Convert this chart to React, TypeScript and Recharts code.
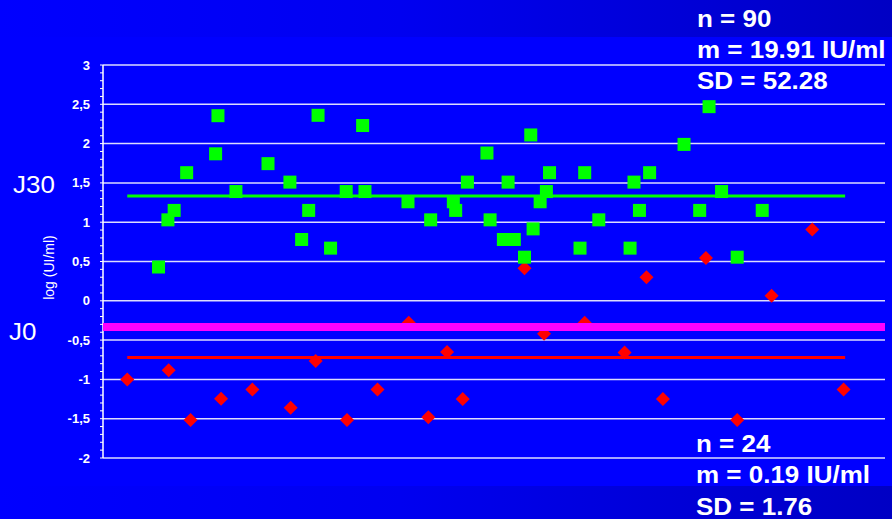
import React from "react";
import {
  ScatterChart,
  Scatter,
  XAxis,
  YAxis,
  CartesianGrid,
} from "recharts";

// J30 samples (green squares)
const j30X = [
  7.1, 8.3, 9.1, 10.7, 14.4, 14.7, 17.0, 21.1, 23.9, 25.4, 26.3, 27.5, 29.1,
  31.1, 33.2, 33.5, 39.0, 41.9, 44.8, 45.1, 46.6, 49.1, 49.5, 51.2, 51.8, 52.6,
  53.9, 54.7, 55.0, 55.9, 56.7, 57.1, 61.0, 61.6, 63.4, 67.4, 67.9, 68.6, 69.9,
  74.3, 76.3, 77.5, 79.1, 81.1, 84.3,
];
const j30Y = [
  0.43, 1.03, 1.15, 1.63, 1.87, 2.355, 1.39, 1.745, 1.51, 0.78, 1.15, 2.36,
  0.67, 1.39, 2.23, 1.39, 1.26, 1.03, 1.26, 1.15, 1.51, 1.88, 1.03, 0.78, 1.51,
  0.78, 0.555, 2.11, 0.915, 1.26, 1.39, 1.63, 0.67, 1.63, 1.03, 0.67, 1.51,
  1.15, 1.63, 1.99, 1.15, 2.47, 1.39, 0.555, 1.15,
];

// J0 samples (red diamonds)
const j0X = [
  3.1, 8.4, 11.2, 15.1, 19.1, 24.0, 27.2, 31.2, 35.1, 39.1, 41.6, 44.0, 46.0,
  53.9, 56.4, 61.6, 66.7, 69.5, 71.6, 77.1, 81.1, 85.5, 90.7, 94.7,
];
const j0Y = [
  -1.0, -0.885, -1.515, -1.245, -1.13, -1.36, -0.766, -1.515, -1.13, -0.28,
  -1.48, -0.65, -1.25, 0.415, -0.42, -0.28, -0.657, 0.3, -1.25, 0.545, -1.515,
  0.064, 0.906, -1.13,
];

const j30Mean = 1.334;
const j0Mean = -0.72;
const cutoff = -0.334;
const meanStart = 3.1;
const meanEnd = 94.9;

const majorTicks = [-2, -1.5, -1, -0.5, 0, 0.5, 1, 1.5, 2, 2.5, 3];
const minorTicks = Array.from({ length: 51 }, (_, i) => Math.round((-2 + i * 0.1) * 10) / 10);

const topStats = ["n = 90", "m = 19.91 IU/ml", "SD = 52.28"];
const bottomStats = ["n = 24", "m = 0.19 IU/ml", "SD = 1.76"];

const j30Data = j30X.map((x, i) => ({ x, y: j30Y[i] }));
const j0Data = j0X.map((x, i) => ({ x, y: j0Y[i] }));
const j30Line = [
  { x: meanStart, y: j30Mean },
  { x: meanEnd, y: j30Mean },
];
const j0Line = [
  { x: meanStart, y: j0Mean },
  { x: meanEnd, y: j0Mean },
];
const cutoffLine = [
  { x: 0, y: cutoff },
  { x: 100, y: cutoff },
];

const FONT = "'Liberation Sans', Arial, sans-serif";

const Square = (props: any) => {
  const { cx, cy } = props;
  return <rect x={cx - 6.5} y={cy - 6.5} width={13} height={13} fill="#00ff00" />;
};

const Diamond = (props: any) => {
  const { cx, cy } = props;
  const r = 7;
  return (
    <polygon
      points={`${cx},${cy - r} ${cx + r},${cy} ${cx},${cy + r} ${cx - r},${cy}`}
      fill="#ff0000"
    />
  );
};

const Nothing = () => <g />;

const YTick = (props: any) => {
  const { x, y, payload } = props;
  const v = payload.value;
  const major = Math.abs(v * 2 - Math.round(v * 2)) < 1e-6;
  if (!major) return <g />;
  return (
    <text
      x={x}
      y={y}
      dy={4.5}
      textAnchor="end"
      fill="#fff"
      fontSize={13}
      fontWeight="bold"
      fontFamily={FONT}
    >
      {String(v).replace(".", ",")}
    </text>
  );
};

export default function App() {
  return (
    <div style={{ position: "absolute", left: 0, top: 0, width: 892, height: 519, background: "#0000ff" }}>
      <svg width={892} height={519} style={{ position: "absolute", left: 0, top: 0 }}>
        <defs>
          <linearGradient id="band" x1="0" y1="0" x2="1" y2="0">
            <stop offset="0" stopColor="#0000ff" />
            <stop offset="0.45" stopColor="#0000f0" />
            <stop offset="1" stopColor="#0000c4" />
          </linearGradient>
        </defs>
        <rect x={0} y={0} width={892} height={37} fill="url(#band)" />
        <rect x={0} y={486} width={892} height={33} fill="url(#band)" />
      </svg>
      <div style={{ position: "absolute", left: 0, top: 0 }}>
        <ScatterChart width={892} height={519} margin={{ top: 65, right: 7, bottom: 61, left: 0 }}>
          <CartesianGrid
            vertical={false}
            horizontalValues={majorTicks}
            stroke="#dcdcff"
            strokeWidth={1.5}
          />
          <XAxis type="number" dataKey="x" domain={[0, 100]} hide />
          <YAxis
            type="number"
            dataKey="y"
            domain={[-2, 3]}
            ticks={minorTicks}
            interval={0}
            width={103}
            tickSize={3}
            tickMargin={10}
            tick={<YTick />}
            tickLine={{ stroke: "#fff" }}
            axisLine={{ stroke: "#fff", strokeWidth: 1.5 }}
          />
          <Scatter data={j0Data} shape={<Diamond />} isAnimationActive={false} />
          <Scatter data={j30Data} shape={<Square />} isAnimationActive={false} />
          <Scatter
            data={j30Line}
            line={{ stroke: "#00ff00", strokeWidth: 3 }}
            shape={<Nothing />}
            isAnimationActive={false}
          />
          <Scatter
            data={j0Line}
            line={{ stroke: "#ff0000", strokeWidth: 3 }}
            shape={<Nothing />}
            isAnimationActive={false}
          />
          <Scatter
            data={cutoffLine}
            line={{ stroke: "#ff00ff", strokeWidth: 8 }}
            shape={<Nothing />}
            isAnimationActive={false}
          />
        </ScatterChart>
      </div>
      <svg width={892} height={519} style={{ position: "absolute", left: 0, top: 0, pointerEvents: "none" }}>
        <g fontFamily={FONT} fill="#fff">
          <text x={13} y={193} fontSize={23} transform="translate(13,193) scale(1.13,1) translate(-13,-193)">
            J30
          </text>
          <text x={9} y={340} fontSize={23} transform="translate(9,340) scale(1.13,1) translate(-9,-340)">
            J0
          </text>
          <text
            x={0}
            y={0}
            fontSize={14}
            textAnchor="middle"
            transform="translate(53.5,267.5) rotate(-90)"
          >
            log (UI/ml)
          </text>
          <g fontWeight="bold" fontSize={23} transform="translate(697,0) scale(1.13,1)">
            {topStats.map((s, i) => (
              <text key={s} x={0} y={27 + i * 31}>
                {s}
              </text>
            ))}
          </g>
          <g fontWeight="bold" fontSize={23} transform="translate(696,0) scale(1.13,1)">
            {bottomStats.map((s, i) => (
              <text key={s} x={0} y={452 + i * 31.5}>
                {s}
              </text>
            ))}
          </g>
        </g>
      </svg>
    </div>
  );
}
